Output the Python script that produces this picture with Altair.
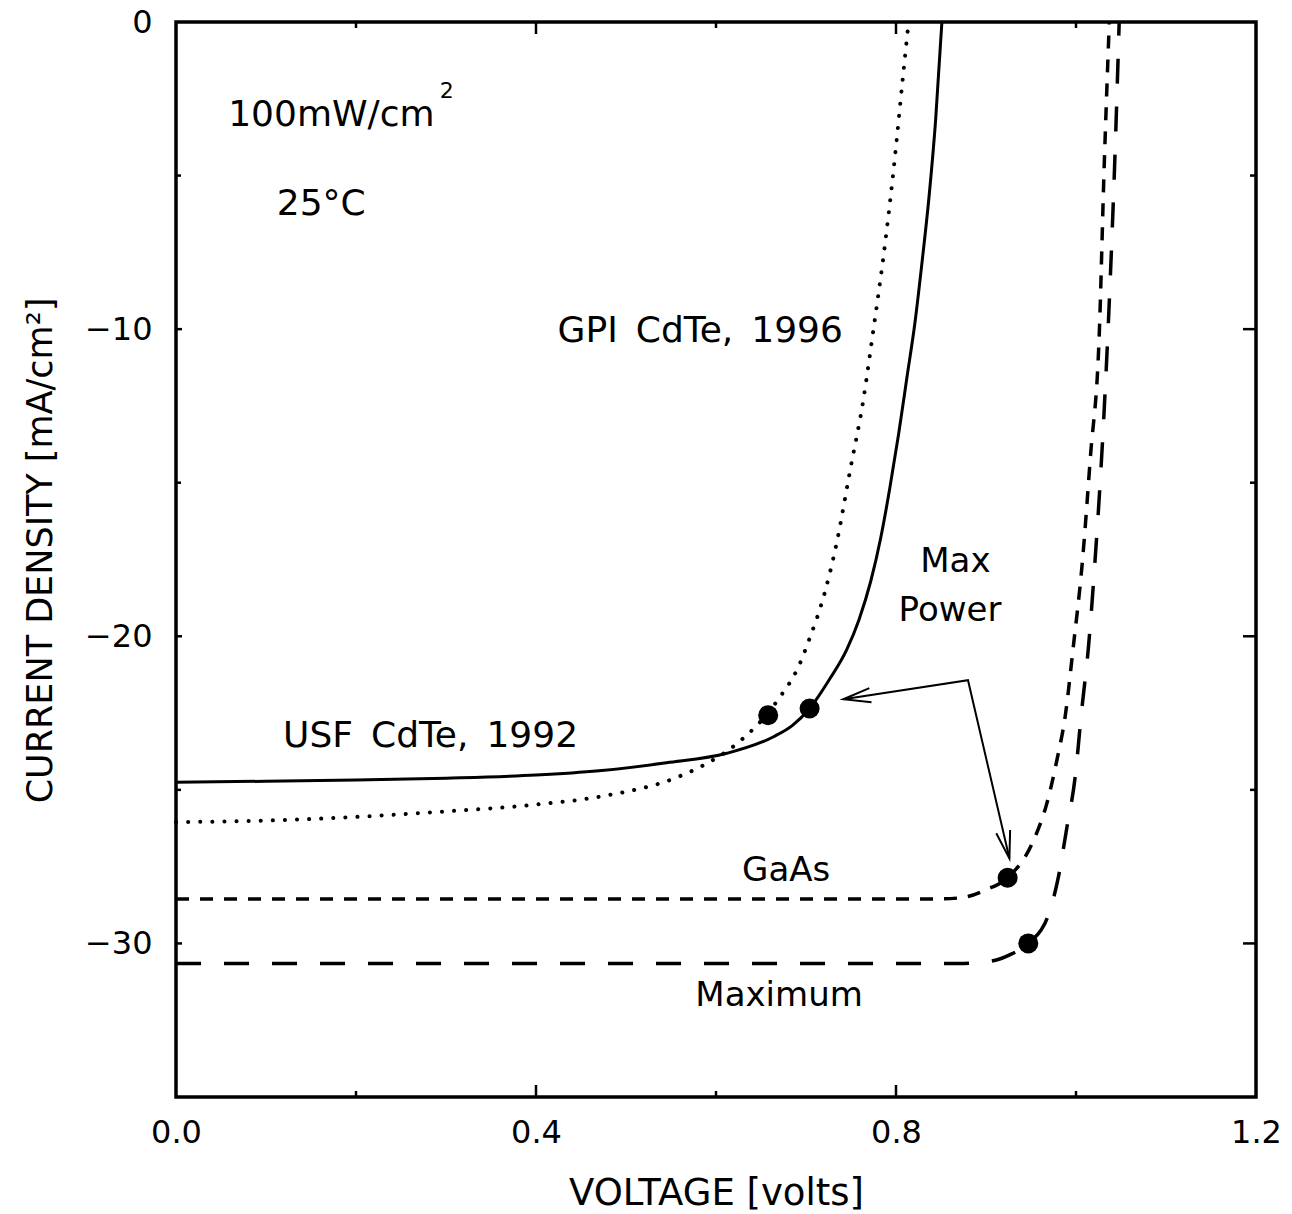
import math
import altair as alt
import pandas as pd

# Plot-area size in pixels and the axis domains
W, H = 1080, 1075
V_MAX, J_MIN = 1.2, -35.0
FONT = "DejaVu Sans"

# J-V curves (voltage in volts, current density in mA/cm^2)
usf_v = [0.000, 0.100, 0.200, 0.300, 0.400, 0.470, 0.545, 0.612, 0.664, 0.685, 0.704,
         0.727, 0.745, 0.759, 0.772, 0.783, 0.793, 0.803, 0.812, 0.821, 0.829, 0.837,
         0.844, 0.851]
usf_j = [-24.75, -24.72, -24.68, -24.62, -24.52, -24.38, -24.12, -23.81, -23.27, -22.90, -22.35,
         -21.36, -20.45, -19.45, -18.20, -16.80, -15.20, -13.40, -11.60, -9.80, -7.80, -5.60,
         -3.20, 0.0]

gpi_v = [0.000, 0.100, 0.200, 0.300, 0.400, 0.475, 0.556, 0.586, 0.623, 0.668, 0.693,
         0.703, 0.721, 0.734, 0.749, 0.764, 0.775, 0.786, 0.797, 0.808, 0.814]
gpi_j = [-26.05, -26.00, -25.88, -25.70, -25.48, -25.20, -24.60, -24.20, -23.50, -22.10, -20.90,
         -20.15, -18.56, -16.97, -14.60, -12.25, -10.00, -7.65, -4.90, -1.70, 0.0]

gaas_v = [0.000, 0.850, 0.875, 0.900, 0.924, 0.952, 0.968, 0.979, 0.988, 0.997, 1.007,
          1.016, 1.026, 1.031, 1.037]
gaas_j = [-28.55, -28.55, -28.50, -28.25, -27.86, -26.70, -25.40, -24.00, -22.60, -20.34, -17.60,
          -14.16, -10.04, -5.01, 0.0]

max_v = [0.000, 0.875, 0.905, 0.928, 0.947, 0.969, 0.980, 0.990, 0.999, 1.006, 1.014,
         1.021, 1.029, 1.037, 1.043, 1.048]
max_j = [-30.65, -30.65, -30.58, -30.35, -30.00, -29.10, -27.90, -26.20, -24.60, -22.50, -20.30,
         -17.60, -13.90, -9.10, -4.60, 0.0]

# Maximum-power points (GPI, USF, GaAs, Maximum)
mp_v = [0.658, 0.704, 0.924, 0.947]
mp_j = [-22.57, -22.35, -27.86, -30.00]

# Pointer: tip at USF point -> elbow -> tip at GaAs point
arrow_v = [0.7415, 0.880, 0.926]
arrow_j = [-22.05, -21.43, -27.23]

# Annotations (en spaces give the wide word gaps of the plotter lettering)
device_text = ["GPI\u2002CdTe,\u20021996", "USF\u2002CdTe,\u20021992"]
device_v = [0.424, 0.119]
device_j = [-10.05, -23.25]
curve_text = ["GaAs", "Maximum"]
curve_v = [0.629, 0.577]
curve_j = [-27.65, -31.72]
cond_text = ["100mW/cm", "25°C"]
cond_v = [0.058, 0.112]
cond_j = [-3.03, -5.93]
sup_text = ["2"]
sup_v = [0.293]
sup_j = [-2.25]
center_text = ["Max", "Power"]
center_v = [0.866, 0.860]
center_j = [-17.58, -19.18]

# Axis tick positions
x_labels = [0.0, 0.4, 0.8, 1.2]
y_labels = [0, -10, -20, -30]
x_major = [0.4, 0.8]
x_minor = [0.2, 0.6, 1.0]
y_major = [-10, -20, -30]
y_minor = [-5, -15, -25]

x_scale = alt.Scale(domain=[0, V_MAX], nice=False, zero=False)
y_scale = alt.Scale(domain=[J_MIN, 0], nice=False, zero=False)

x_axis = alt.Axis(values=x_labels, format=".1f", title="VOLTAGE [volts]",
                  domain=False, ticks=False, grid=False, labelFlush=False, labelOverlap=False,
                  labelFont=FONT, labelFontSize=32, labelColor="black", labelPadding=20,
                  titleFont=FONT, titleFontSize=37, titleFontWeight="normal", titleColor="black",
                  titleX=W / 2, titleY=96, titleAlign="center", titleBaseline="middle")
y_axis = alt.Axis(values=y_labels, format="d", title="CURRENT DENSITY [mA/cm²]",
                  domain=False, ticks=False, grid=False, labelFlush=False, labelOverlap=False,
                  labelFont=FONT, labelFontSize=32, labelColor="black", labelPadding=24,
                  titleFont=FONT, titleFontSize=35, titleFontWeight="normal", titleColor="black",
                  titleX=-136, titleY=528, titleAngle=270, titleAlign="center",
                  titleBaseline="middle")


def X():
    return alt.X("v:Q", scale=x_scale, axis=x_axis)


def Y():
    return alt.Y("j:Q", scale=y_scale, axis=y_axis)


def curve(v, j):
    return pd.DataFrame({"v": v, "j": j, "k": range(len(v))})


usf = alt.Chart(curve(usf_v, usf_j)).mark_line(
    color="black", strokeWidth=3, interpolate="monotone"
).encode(x=X(), y=Y(), order="k:Q")

gpi = alt.Chart(curve(gpi_v, gpi_j)).mark_line(
    color="black", strokeWidth=4, strokeDash=[0.1, 12], strokeCap="round", interpolate="monotone"
).encode(x=X(), y=Y(), order="k:Q")

gaas = alt.Chart(curve(gaas_v, gaas_j)).mark_line(
    color="black", strokeWidth=3.5, strokeDash=[13, 11], interpolate="monotone"
).encode(x=X(), y=Y(), order="k:Q")

maxim = alt.Chart(curve(max_v, max_j)).mark_line(
    color="black", strokeWidth=3.5, strokeDash=[25, 23], interpolate="monotone"
).encode(x=X(), y=Y(), order="k:Q")

points = alt.Chart(pd.DataFrame({"v": mp_v, "j": mp_j})).mark_circle(
    color="black", opacity=1, size=400
).encode(x=X(), y=Y())

pointer = alt.Chart(curve(arrow_v, arrow_j)).mark_line(
    color="black", strokeWidth=2
).encode(x=X(), y=Y(), order="k:Q")

# Arrowhead orientation follows the pointer segments in screen space
px_v, px_j = W / V_MAX, H / -J_MIN


def heading(v0, j0, v1, j1):
    ang = math.degrees(math.atan2(-(j1 - j0) * px_j, (v1 - v0) * px_v))
    return ang % 360


heads = pd.DataFrame({
    "v": [arrow_v[0], arrow_v[2]],
    "j": [arrow_j[0], arrow_j[2]],
    "ang": [heading(arrow_v[1], arrow_j[1], arrow_v[0], arrow_j[0]),
            heading(arrow_v[1], arrow_j[1], arrow_v[2], arrow_j[2])],
})
arrowheads = alt.Chart(heads).mark_point(
    shape="M-1,-0.26L0,0L-1,0.26", filled=False, color="black", strokeWidth=2,
    size=3000, opacity=1
).encode(x=X(), y=Y(), angle=alt.Angle("ang:Q", scale=None))


def text_layer(v, j, t, size, align="left"):
    return alt.Chart(pd.DataFrame({"v": v, "j": j, "t": t})).mark_text(
        align=align, baseline="middle", font=FONT, fontSize=size, color="black"
    ).encode(x=X(), y=Y(), text="t:N")


labels = [
    text_layer(device_v, device_j, device_text, 36),
    text_layer(curve_v, curve_j, curve_text, 34),
    text_layer(cond_v, cond_j, cond_text, 36),
    text_layer(sup_v, sup_j, sup_text, 22),
    text_layer(center_v, center_j, center_text, 34, align="center"),
]


# Inward tick marks on all four sides of the frame
def xticks(vals, length):
    d = pd.DataFrame({"v": vals})
    top = alt.Chart(d).mark_rule(color="black", strokeWidth=2.5).encode(
        x=X(), y=alt.value(0), y2=alt.value(length))
    bottom = alt.Chart(d).mark_rule(color="black", strokeWidth=2.5).encode(
        x=X(), y=alt.value(H), y2=alt.value(H - length))
    return [top, bottom]


def yticks(vals, left_len, right_len):
    d = pd.DataFrame({"j": vals})
    left = alt.Chart(d).mark_rule(color="black", strokeWidth=2.5).encode(
        y=Y(), x=alt.value(0), x2=alt.value(left_len))
    right = alt.Chart(d).mark_rule(color="black", strokeWidth=2.5).encode(
        y=Y(), x=alt.value(W), x2=alt.value(W - right_len))
    return [left, right]


ticks = (xticks(x_major, 12) + xticks(x_minor, 6)
         + yticks(y_major, 6, 13) + yticks(y_minor, 5, 6))

chart = alt.layer(
    usf, gpi, gaas, maxim, pointer, arrowheads, points, *labels, *ticks
).properties(
    width=W, height=H,
    padding={"left": 176, "top": 22, "right": 36, "bottom": 117},
    autosize=alt.AutoSizeParams(type="none"),
    background="white",
).configure_view(
    stroke="black", strokeWidth=3.5
)

chart.save("out.html", embed_options={"renderer": "svg", "actions": False})
